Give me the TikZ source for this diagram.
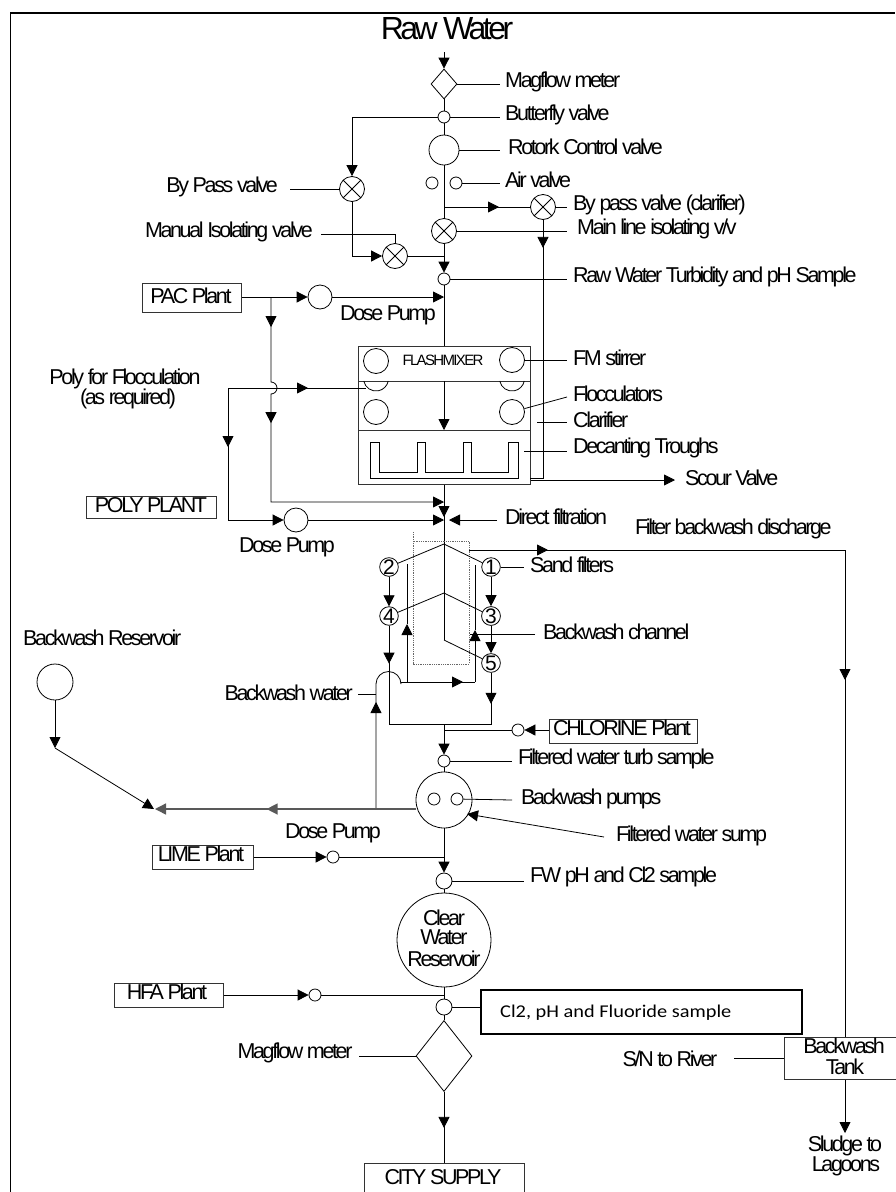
\documentclass[tikz,border=0pt]{standalone}
\usepackage{fontspec}
\setmainfont{Liberation Sans}[LetterSpace=-11]
\newfontfamily\plainsans{Liberation Sans}
\newfontfamily\samplefont{Carlito}[FakeStretch=1.13]
\usetikzlibrary{arrows.meta,decorations.markings,shapes.geometric}
\tikzset{
  tri/.tip={Triangle[length=11pt,width=11pt]},
  pipe/.style={draw=black,line width=0.8pt,line join=miter},
  lead/.style={draw=black,line width=0.8pt},
  flow/.style={pipe,-{tri}},
  tipat/.style={postaction={decorate,decoration={markings,mark=at position #1 with {\arrow{tri}}}}},
  valve/.style={circle,draw=black,line width=0.8pt,fill=white,inner sep=0pt,minimum size=#1},
  xring/.style={circle,draw=black,line width=0.8pt,fill=white,inner sep=0pt,minimum size=25pt},
  numv/.style={circle,draw=black,line width=0.8pt,fill=white,inner sep=0pt,minimum size=18pt,font=\plainsans\fontsize{21}{21}\selectfont},
  mdia/.style={diamond,draw=black,line width=0.8pt,fill=white,inner sep=0pt,aspect=#1},
  plant/.style={rectangle,draw=black!80,line width=0.9pt,inner sep=0pt,anchor=north west},
  lbl/.style={font=\fontsize{21.5}{22}\selectfont,inner sep=0pt,align=center},
  lblw/.style={lbl,anchor=west},
}
\newcommand{\xv}[3]{\node[xring] (#1) at (#2,#3) {};
  \draw[line width=0.8pt] (#2-8.8,#3-8.8) -- (#2+8.8,#3+8.8) (#2-8.8,#3+8.8) -- (#2+8.8,#3-8.8);}
\begin{document}
\begin{tikzpicture}[x=1pt,y=-1pt]
\useasboundingbox (0,0) rectangle (895,1192);
\fill[white] (0,0) rectangle (895,1192);
\draw[line width=1.2pt] (10.5,1192) -- (10.5,13) -- (895,13);

% --- title and top of the line
\node[lbl,font=\fontsize{32}{32}\selectfont] (raw) at (447,29) {Raw Water};
\coordinate (rawend) at (444,52);
\node[mdia=0.87,minimum width=26pt,minimum height=30pt] (fm1) at (444,84) {};
\node[valve=12pt] (bf) at (444,117) {};
\node[valve=30pt] (rotork) at (444,150) {};
\node[valve=12pt] (air1) at (432,183) {};
\node[valve=12pt] (air2) at (456,183) {};
\coordinate (j207) at (444,207);
\coordinate (j256) at (444,256);
\draw[flow] (rawend) -- (fm1);
\draw[pipe] (fm1) -- (bf);
\draw[pipe] (bf) -- (rotork);
\draw[pipe] (rotork) -- (444,231);
\draw[pipe,tipat=55pt] (j207) -- (530,207);
\xv{bypc}{543}{207}
\xv{iso}{444}{231}
\xv{byp}{352}{189}
\xv{man}{395}{256}
\node[valve=12pt] (rawsamp) at (444,279) {};
\draw[flow] (bf) -| (byp);
\draw[flow] (byp) |- (man);
\draw[pipe] (iso) -- (j256);
\draw[flow] (man) -- (j256) -- (rawsamp);

% --- right leads and labels, top
\coordinate (l1) at (500,84); \node[lblw] (t1) at (505,82) {Magflow meter};
\draw[lead] (fm1) -- (l1);
\coordinate (l2) at (500,117); \node[lblw] (t2) at (505,115) {Butterfly valve};
\draw[lead] (bf) -- (l2);
\coordinate (l3) at (500,150); \node[lblw] (t3) at (508,147) {Rotork Control valve};
\draw[lead] (rotork) -- (l3);
\coordinate (l4) at (500,183); \node[lblw] (t4) at (505,180) {Air valve};
\draw[lead] (air2) -- (l4);
\coordinate (l5) at (567,207); \node[lblw] (t5) at (573,205) {By pass valve (clarifier)};
\draw[lead] (bypc) -- (l5);
\coordinate (l6) at (567,231); \node[lblw] (t6) at (577,229) {Main line isolating v/v};
\draw[lead] (iso) -- (l6);
\coordinate (l7) at (567,279); \node[lblw] (t7) at (573,277) {Raw Water Turbidity and pH Sample};
\draw[lead] (rawsamp) -- (l7);

\node[lbl,anchor=east] (t8) at (278,187) {By Pass valve};
\draw[lead] (t8.east)+(12,2) -- (byp);
\node[lbl,anchor=east] (t9) at (313,232) {Manual Isolating valve};
\coordinate (l9) at (395,234);
\draw[lead] (321,234) -- (l9) -- (man);

% --- PAC
\node[plant,minimum width=99pt,minimum height=29pt] (pac) at (142,283) {};
\node[lbl] (pact) at (191,296) {PAC Plant};
\node[valve=24pt] (dp1) at (320,297) {};
\node[lbl] (dp1t) at (388,315) {Dose Pump};
\coordinate (jpac) at (271,297);
\coordinate (m1) at (444,297);
\coordinate (m2) at (444,502);
\coordinate (m3) at (444,520);
\draw[flow] (pac.east|-jpac) -- (dp1);
\draw[flow] (dp1) -- (m1);
\draw[flow,tipat=30pt,tipat=133pt] (jpac) -- (271,382) arc[start angle=90,end angle=-90,radius=6pt] -- (271,502) -- (m2);

% --- main line into the flash mixer
\node[rectangle,draw=black!80,line width=1pt,minimum width=172pt,minimum height=138pt,inner sep=0pt,anchor=north west] (fmx) at (358,346) {};
\draw[pipe] (rawsamp) -- (fmx.north-|rawsamp);
\draw[line width=1pt,draw=black!80] (358,381) -- (530,381) (358,430) -- (530,430);
\node[valve=25pt] (c1) at (376,361) {};
\node[valve=25pt] (c2) at (512,360) {};
\node[valve=25pt] (c3) at (376,412) {};
\node[valve=25pt] (c4) at (512,412) {};
\draw[pipe] (363.75,381) arc[start angle=191.5,end angle=348.5,radius=12.5pt];
\draw[pipe] (499.75,381) arc[start angle=191.5,end angle=348.5,radius=12.5pt];
\node[font=\fontsize{15}{15}\selectfont,inner sep=0pt] (fmt) at (443,360) {FLASHMIXER};
\coordinate (fa) at (444,381); \coordinate (fb) at (444,430);
\draw[flow] (fa) -- (fb);

% --- troughs
\draw[pipe] (370,442) -- (379,442) -- (379,472) -- (417,472) -- (417,442) -- (425,442) -- (425,472) -- (463,472) -- (463,442) -- (471,442) -- (471,472) -- (508,472) -- (508,442) -- (518,442) -- (518,478) -- (370,478) -- cycle;

% --- right leads, mixer
\coordinate (l10) at (567,360); \node[lblw] (t10) at (573,358) {FM stirrer};
\draw[lead] (c2) -- (l10);
\coordinate (l11) at (567,397); \node[lblw] (t11) at (573,394) {Flocculators};
\draw[lead] (c4) -- (l11);
\coordinate (l12) at (567,422); \node[lblw] (t12) at (573,420) {Clarifier};
\draw[lead] (537,422) -- (l12);
\coordinate (l13) at (567,451); \node[lblw] (t13) at (573,448) {Decanting Troughs};
\draw[lead] (524,451) -- (l13);
\draw[pipe,tipat=28pt] (bypc) -- (543,478) -- (530,478);
\coordinate (sc1) at (531,480); \coordinate (sc2) at (675,480);
\node[lblw] (t14) at (685,478) {Scour Valve};
\draw[flow] (sc1) -- (sc2);

% --- poly
\node[lbl] (t15) at (125,379) {Poly for Flocculation};
\node[lbl] (t16) at (128,399) {(as required)};
\node[plant,minimum width=130pt,minimum height=22pt] (poly) at (86,496) {};
\node[lbl] (polyt) at (151,505) {POLY PLANT};
\node[valve=24pt] (dp2) at (296,520) {};
\node[lbl] (dp2t) at (287,547) {Dose Pump};
\coordinate (jpoly) at (228,388);
\draw[pipe,tipat=80pt] (jpoly) -- (366,388);
\draw[flow,tipat=59pt] (jpoly) -- (228,520) -- (dp2);
\draw[flow] (dp2) -- (m3);

% --- main line below the mixer
\coordinate (peak1) at (444,544);
\coordinate (peak2) at (444,593);
\coordinate (elbow) at (444,640);
\coordinate (tipd) at (444,517);
\coordinate (tipdf) at (449,520);
\coordinate (dfend) at (497,520);
\draw[pipe] (fmx.south-|peak1) -- (elbow);
\draw[flow] (fmx.south-|peak1) -- (tipd);
\node[lblw] (t17) at (505,517) {Direct filtration};
\draw[flow] (dfend) -- (tipdf);

% --- filters
\draw[densely dotted,black!60,line width=0.8pt] (413,532) -- (413,664) -- (469,664) -- (469,541) -- (413,541);
\node[numv] (f1) at (491,567) {1};
\node[numv] (f2) at (389,567) {2};
\node[numv] (f3) at (491,616) {3};
\node[numv] (f4) at (389,616) {4};
\node[numv] (f5) at (491,663) {5};
\draw[pipe] (peak1) -- (f1);
\draw[pipe] (peak1) -- (f2);
\draw[pipe] (peak2) -- (f3);
\draw[pipe] (peak2) -- (f4);
\draw[pipe] (elbow) -- (f5);
\draw[flow] (f1) -- (f3);
\draw[flow] (f2) -- (f4);
\draw[flow] (f3) -- (f5);
\coordinate (jfw) at (444,724);
\draw[pipe,tipat=38pt] (f4) -- (389,724) -- (jfw);
\draw[pipe,tipat=31pt] (f5) -- (491,724) -- (jfw);
\node[lblw] (t18) at (530,565) {Sand filters};
\coordinate (l18) at (524,567);
\draw[lead] (f1) -- (l18);

% --- filter backwash discharge
\node[lblw] (t19) at (635,529) {Filter backwash discharge};
\node[plant,minimum width=120pt,minimum height=42pt] (tank) at (784,1037) {};
\node[lbl] (tankt1) at (844,1046) {Backwash};
\node[lbl] (tankt2) at (845,1067) {Tank};
\coordinate (disch) at (469,550);
\coordinate (tanktop) at (845,1037);
\draw[pipe,tipat=79pt,tipat=506pt] (disch) -| (tanktop);
\node[lbl] (t20) at (670,1059) {S/N to River};
\coordinate (l20) at (734,1058);
\draw[lead] (l20) -- (tank.west|-l20);
\coordinate (sludge) at (845,1133);
\draw[flow] (tank.south-|sludge) -- (sludge);
\node[lbl] (t21) at (845,1146) {Sludge to};
\node[lbl] (t22) at (846,1166) {Lagoons};

% --- backwash channel
\coordinate (bw1) at (407,564);
\coordinate (bw2) at (407,682);
\coordinate (bw3) at (475,682);
\coordinate (bw4) at (475,565);
\coordinate (bwm) at (475,630);
\coordinate (bwl) at (407,624);
\draw[pipe] (bwl) -- (bw1);
\draw[pipe] (bwm) -- (bw4);
\draw[flow] (bw2) -- (bwl);
\draw[flow] (bw3) -- (bwm);
\draw[pipe,tipat=62pt] (401,682) -- (bw3);
\coordinate (l23) at (535,634);
\node[lblw] (t23) at (543,632) {Backwash channel};
\draw[lead] (l23) -- (470,634);

% --- backwash water
\coordinate (hump) at (376,684);
\coordinate (bwpump) at (376,809);
\draw[pipe,tipat=107pt] (bwpump) -- (hump) arc[start angle=180,end angle=0,radius=12.5pt] -- (401,682);
\node[lbl,anchor=east] (t24) at (353,693) {Backwash water};
\coordinate (l24) at (358,694);
\draw[lead] (l24) -- (376,694);

% --- chlorine
\node[plant,minimum width=148pt,minimum height=24pt] (cl) at (549,719) {};
\node[lbl] (clt) at (622,728) {CHLORINE Plant};
\node[valve=12pt] (clv) at (518,730) {};
\draw[flow] (cl.west|-clv) -- (clv);
\coordinate (jcl) at (444,730);
\draw[pipe] (clv) -- (jcl);

% --- filtered water sample and pumps
\node[valve=12pt] (turb) at (444,761) {};
\draw[flow] (jfw) -- (turb);
\coordinate (l25) at (512,761); \node[lblw] (t25) at (518,759) {Filtered water turb sample};
\draw[lead] (turb) -- (l25);
\node[valve=56pt] (pump) at (444,800) {};
\draw[pipe] (turb) -- (pump);
\node[valve=12pt] (p1) at (434,799) {};
\node[valve=12pt] (p2) at (457,799) {};
\coordinate (l26) at (512,800); \node[lblw] (t26) at (521,799) {Backwash pumps};
\draw[lead] (p2) -- (l26);
\coordinate (l27) at (604,837); \node[lblw] (t27) at (616,836) {Filtered water sump};
\coordinate (ptip) at (467,814);
\draw[flow] (l27) -- (ptip);

% --- backwash reservoir
\node[lblw] (t28) at (23,638) {Backwash Reservoir};
\node[valve=36pt] (bres) at (55,682) {};
\coordinate (bend) at (55,748);
\coordinate (bjoin) at (154,809);
\draw[flow] (bres) -- (bend);
\draw[flow] (bend) -- (bjoin);
\draw[draw=black!65,line width=1.4pt,tipat=149pt,-{tri}] (pump.west|-bwpump) -- (155,809);

% --- lime
\node[plant,minimum width=101pt,minimum height=24pt] (lime) at (152,845) {};
\node[lbl] (limet) at (201,854) {LIME Plant};
\node[valve=12pt] (limev) at (333,857) {};
\node[lbl] (t29) at (333,833) {Dose Pump};
\draw[flow] (lime.east|-limev) -- (limev);
\coordinate (jlime) at (444,857);
\draw[pipe] (limev) -- (jlime);
\node[valve=16pt] (fwph) at (444,881) {};
\draw[flow] (pump) -- (fwph);
\coordinate (l30) at (524,881); \node[lblw] (t30) at (530,877) {FW pH and Cl2 sample};
\draw[lead] (fwph) -- (l30);

% --- clear water
\node[valve=94pt] (cwr) at (444,940) {};
\draw[pipe] (fwph) -- (cwr);
\node[lbl] (cw1) at (444,918) {Clear};
\node[lbl] (cw2) at (444,937) {Water};
\node[lbl] (cw3) at (444,959) {Reservoir};

% --- HFA
\node[plant,minimum width=109pt,minimum height=24pt] (hfa) at (114,983) {};
\node[lbl] (hfat) at (167,992) {HFA Plant};
\node[valve=12pt] (hfav) at (315,995) {};
\draw[flow] (hfa.east|-hfav) -- (hfav);
\coordinate (jhfa) at (444,995);
\draw[pipe] (hfav) -- (jhfa);
\node[valve=16pt] (cl2s) at (444,1007) {};
\draw[pipe] (cwr) -- (cl2s);
\node[rectangle,draw=black,line width=2.4pt,minimum width=321pt,minimum height=44pt,inner sep=0pt,anchor=north west] (cl2box) at (480,989) {};
\node[font=\samplefont\fontsize{18}{18}\selectfont,anchor=west,inner sep=0pt] (cl2t) at (500,1013) {Cl2, pH and Fluoride sample};
\draw[lead] (cl2s) -- (cl2box.west|-cl2s);

% --- final meter and supply
\node[mdia=0.78,minimum width=56pt,minimum height=71pt] (fm2) at (444,1056) {};
\draw[pipe] (cl2s) -- (fm2);
\node[lbl] (t31) at (295,1053) {Magflow meter};
\coordinate (l31) at (359,1056);
\draw[lead] (l31) -- (fm2);
\node[plant,minimum width=160pt,minimum height=40pt] (city) at (364,1163) {};
\node[lbl] (cityt) at (443,1177) {CITY SUPPLY};
\draw[pipe,tipat=36pt] (fm2) -- (city.north-|fm2);
\end{tikzpicture}
\end{document}
